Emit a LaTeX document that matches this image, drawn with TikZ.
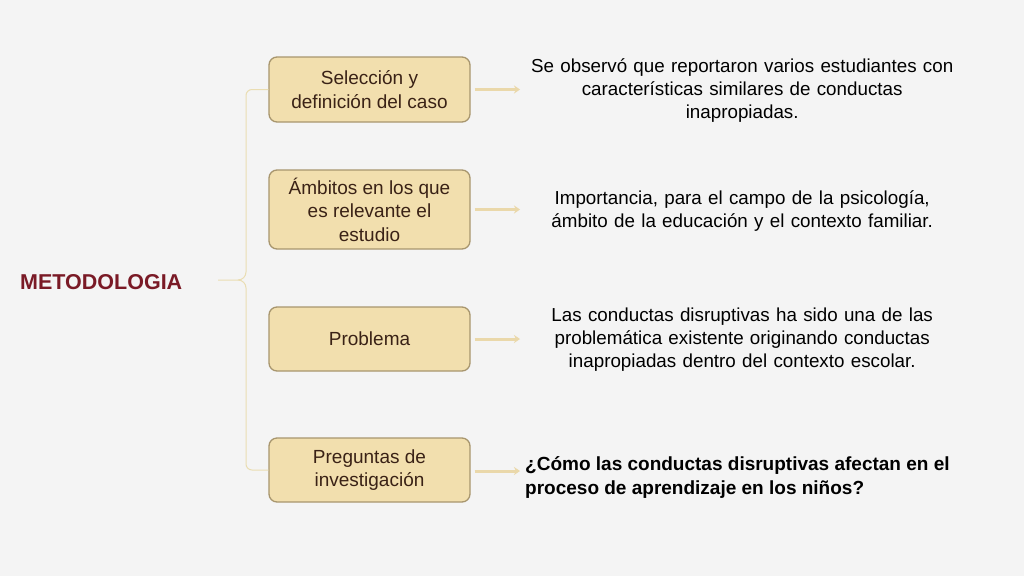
\documentclass[tikz,border=0pt]{standalone}
\usepackage{fontspec}
\setmainfont{Liberation Sans}
\usetikzlibrary{arrows.meta}
\definecolor{bg}{HTML}{F4F4F4}
\definecolor{boxfill}{HTML}{F2DFAE}
\definecolor{boxline}{HTML}{A8966E}
\definecolor{boxtext}{HTML}{3A2216}
\definecolor{arrowc}{HTML}{EAD8AA}
\definecolor{bracec}{HTML}{EADDB2}
\definecolor{titlered}{HTML}{7A1A26}
\tikzset{
  stepbox/.style={draw=boxline, line width=1.3pt, fill=boxfill, rounded corners=8pt,
    minimum width=201pt, inner sep=0pt, text=boxtext, align=center,
    font=\fontsize{19}{23.5}\selectfont},
  desc/.style={anchor=west, inner sep=0pt, text width=444pt, align=center,
    font=\fontsize{18.8}{23}\selectfont, text=black},
  link/.style={draw=arrowc, line width=3pt, -{Stealth[length=6pt,width=8pt]}, shorten <=4pt},
  brace/.style={draw=bracec, line width=1pt},
}
\begin{document}
\begin{tikzpicture}[x=1pt,y=-1pt]
\fill[bg] (0,0) rectangle (1024,576);
\useasboundingbox (0,0) rectangle (1024,576);

\node[anchor=west, inner sep=0pt, text=titlered, font=\fontsize{21.5}{25}\bfseries\selectfont] (m) at (20,282) {METODOLOGIA};

\node[stepbox, minimum height=65pt] (b1) at (369.5,89.5) {Selección y\\definición del caso};
\node[stepbox, minimum height=79pt] (b2) at (369.5,209.5) {Ámbitos en los que\\es relevante el\\estudio};
\node[stepbox, minimum height=64pt] (b3) at (369.5,339) {Problema};
\node[stepbox, minimum height=64pt] (b4) at (369.5,470) {Preguntas de\\investigación};

\node[desc] (t1) at (520,91) {Se observó que reportaron varios estudiantes con\\características similares de conductas\\inapropiadas.};
\node[desc] (t2) at (520,211) {Importancia, para el campo de la psicología,\\ámbito de la educación y el contexto familiar.};
\node[desc] (t3) at (520,340) {Las conductas disruptivas ha sido una de las\\problemática existente originando conductas\\inapropiadas dentro del contexto escolar.};
\node[anchor=west, inner sep=0pt, align=left, font=\fontsize{19}{24}\bfseries\selectfont] (t4) at (525,477)
  {¿Cómo las conductas disruptivas afectan en el\\proceso de aprendizaje en los niños?};

\coordinate (tip) at (218,280);
\coordinate (a4) at (520,471);

\draw[link] (b1.east) -- (b1.east -| t1.west);
\draw[link] (b2.east) -- (b2.east -| t2.west);
\draw[link] (b3.east) -- (b3.east -| t3.west);
\draw[link] ([yshift=-1pt]b4.east) -- (a4);

\draw[brace] (b1.west) -- (252,89.5) to[out=180,in=90] (246,95.5) -- (246,272)
  to[out=-90,in=0] (238,280) -- (tip);
\draw[brace] (238,280) to[out=0,in=90] (246,288) -- (246,464)
  to[out=-90,in=180] (252,470) -- (b4.west);
\end{tikzpicture}
\end{document}
